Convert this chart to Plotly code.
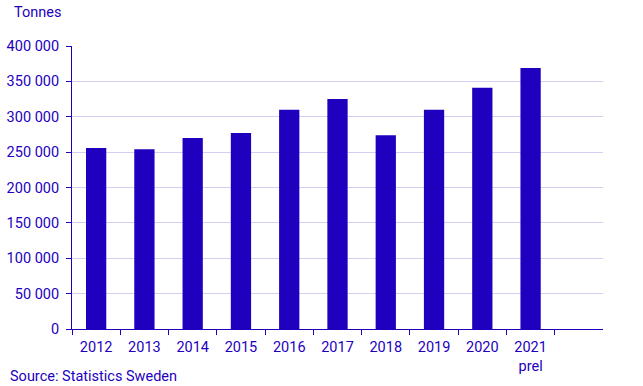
import plotly.graph_objects as go

categories = ["2012", "2013", "2014", "2015", "2016", "2017", "2018", "2019", "2020", "2021<br>prel"]
values = [256000, 254000, 270000, 277000, 310000, 325000, 274000, 310000, 341000, 369000]
y_ticks = [0, 50000, 100000, 150000, 200000, 250000, 300000, 350000, 400000]
y_tick_labels = ["0", "50 000", "100 000", "150 000", "200 000", "250 000", "300 000", "350 000", "400 000"]

blue = "#1e00be"
font = "Roboto, Arial, sans-serif"
fs = 14.5

fig = go.Figure(go.Bar(x=categories, y=values, marker_color=blue, marker_line_width=0))

fig.update_layout(
    width=643, height=386,
    margin=dict(l=72, r=40, t=46, b=57),
    paper_bgcolor="white", plot_bgcolor="white",
    bargap=0.58,
    showlegend=False,
    font=dict(family=font, size=fs, color=blue),
    annotations=[
        dict(text="Tonnes", xref="paper", yref="paper", x=-0.113, y=1.0, yshift=34,
             xanchor="left", yanchor="middle", showarrow=False,
             font=dict(family=font, size=fs, color=blue)),
        dict(text="Source: Statistics Sweden", xref="paper", yref="paper", x=-0.12, y=0,
             yshift=-47, xanchor="left", yanchor="middle", showarrow=False,
             font=dict(family=font, size=fs, color=blue)),
    ],
)

fig.update_xaxes(
    type="category",
    categoryorder="array", categoryarray=categories,
    range=[-0.5, 10.5],
    tickson="boundaries",
    ticks="outside", ticklen=5, tickcolor=blue, tickwidth=1,
    showline=True, linecolor=blue, linewidth=1,
    showgrid=False, automargin=False,
    ticklabelstandoff=5,
    tickfont=dict(family=font, size=fs, color=blue),
)
fig.update_yaxes(
    range=[0, 400000],
    tickvals=y_ticks, ticktext=y_tick_labels,
    ticks="outside", ticklen=5, tickcolor=blue, tickwidth=1,
    showline=True, linecolor=blue, linewidth=1,
    showgrid=True, gridcolor="#d3cff2", gridwidth=1,
    zeroline=False, automargin=False,
    ticklabelstandoff=4,
    tickfont=dict(family=font, size=fs, color=blue),
)

fig.write_html("out.html", config={"displayModeBar": False},
               post_script="document.body.style.margin='0';document.body.style.padding='0';")
